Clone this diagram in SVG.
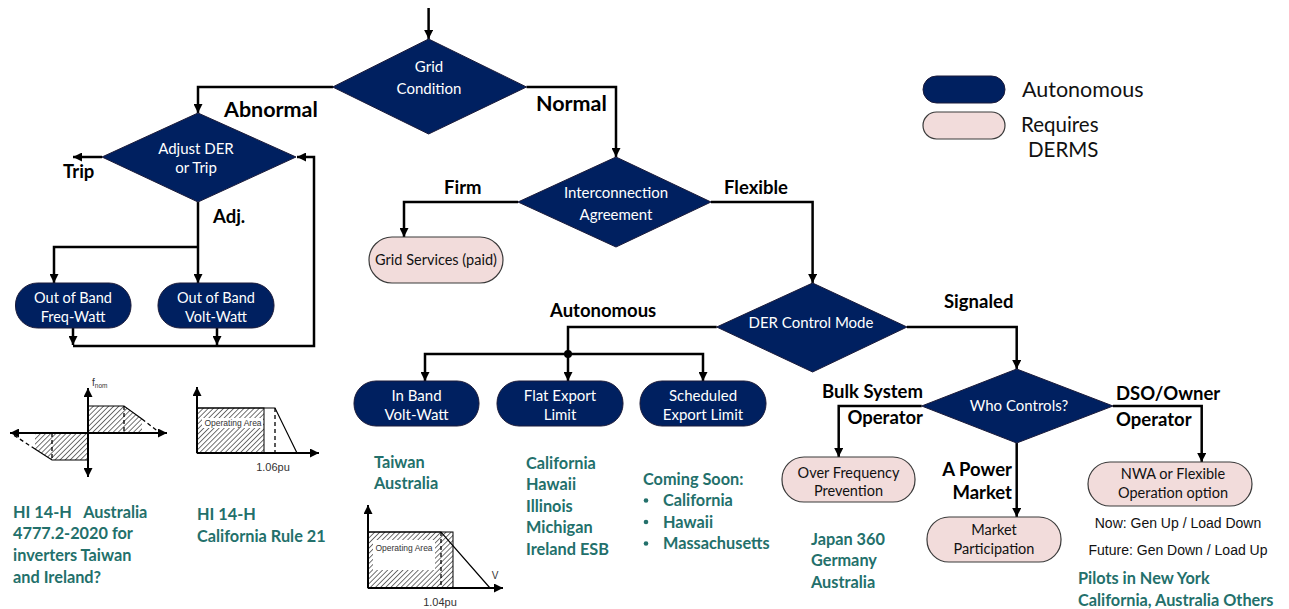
<svg xmlns="http://www.w3.org/2000/svg" width="1289" height="609" viewBox="0 0 1289 609">
<style>
.ln{stroke:#000;stroke-width:2.5;fill:none}
.ar{marker-end:url(#ah)}
.dk{fill:#002060;stroke:#1b1b3a;stroke-width:1}
.pk{fill:#F2DCDB;stroke:#3a3a3a;stroke-width:1.2}
.wt{fill:#fff;font-family:Lato,"Liberation Sans",sans-serif;font-size:15px;text-anchor:middle}
.bk{fill:#111;font-family:Lato,"Liberation Sans",sans-serif;font-size:14.5px;text-anchor:middle}
.lb{fill:#000;font-family:Lato,"Liberation Sans",sans-serif;font-weight:bold;font-size:18.5px}
.lb2{fill:#000;font-family:Lato,"Liberation Sans",sans-serif;font-weight:bold;font-size:21.5px}
.tl{fill:#23706B;font-family:Lato,"Liberation Sans",sans-serif;font-weight:bold;font-size:16.3px}
.ar2{fill:#111;font-family:"Liberation Sans",Arial,sans-serif;font-size:14px;text-anchor:middle}
.lg{fill:#111;font-family:Lato,"Liberation Sans",sans-serif;font-size:21.5px}
.lg2{fill:#111;font-family:Lato,"Liberation Sans",sans-serif;font-size:20.5px}
.ax{stroke:#000;stroke-width:2;fill:none}
.th{stroke:#000;stroke-width:1.2;fill:none}
.ds{stroke:#000;stroke-width:1.3;fill:none;stroke-dasharray:4 3}
.sm{fill:#333;font-family:"Liberation Sans",Arial,sans-serif;font-size:8.5px;text-anchor:middle}
.pu{fill:#333;font-family:"Liberation Sans",Arial,sans-serif;font-size:11px;text-anchor:middle}
</style>
<defs>
<marker id="ah" viewBox="0 0 10 10" refX="10" refY="5" markerUnits="userSpaceOnUse" markerWidth="9" markerHeight="9" orient="auto">
<path d="M0,0 L10,5 L0,10 z" fill="#000"/>
</marker>
<marker id="ax" viewBox="0 0 10 10" refX="10" refY="5" markerUnits="userSpaceOnUse" markerWidth="9" markerHeight="9" orient="auto">
<path d="M0,0 L10,5 L0,10 z" fill="#000"/>
</marker>
<pattern id="hatch" patternUnits="userSpaceOnUse" width="3.6" height="3.6" patternTransform="rotate(45)">
<rect width="3.6" height="3.6" fill="#fff"/>
<line x1="0" y1="0" x2="0" y2="3.6" stroke="#444" stroke-width="1.5"/>
</pattern>
</defs>
<rect width="1289" height="609" fill="#fff"/>

<g id="connectors">
<path class="ln ar" d="M428.6,8 V39"/>
<path class="ln ar" d="M333,87 H198 V113"/>
<path class="ln ar" d="M526.5,87 H616 V157"/>
<path class="ln ar" d="M102,157 H73"/>
<path class="ln ar" d="M198,202 V283"/>
<path class="ln ar" d="M198,247 H54 V283"/>
<path class="ln ar" d="M73,328 V345"/>
<path class="ln ar" d="M217,328 V345"/>
<path class="ln ar" d="M73,346 H314 V157 H297"/>
<path class="ln ar" d="M518,202 H404 V237"/>
<path class="ln ar" d="M711,202 H812.6 V283"/>
<path class="ln" d="M716.7,327 H568 V354"/>
<circle cx="568" cy="354" r="4" fill="#000"/>
<path class="ln ar" d="M568,354 H425 V381"/>
<path class="ln ar" d="M568,354 V381"/>
<path class="ln ar" d="M568,354 H703 V381"/>
<path class="ln ar" d="M907,327 H1016.7 V369"/>
<path class="ln ar" d="M921.7,406 H838.7 V457"/>
<path class="ln ar" d="M1113,406 H1201.7 V462"/>
<path class="ln ar" d="M1016.7,443 V517"/>
</g>

<g id="grid-condition">
<polygon class="dk" points="428.6,39 526.5,87 428.6,134 332.7,87"/>
<text class="wt" x="429" y="72">Grid</text>
<text class="wt" x="429" y="94">Condition</text>
</g>
<g id="adjust-der">
<polygon class="dk" points="198,113 296,157 198,202 102,157"/>
<text class="wt" x="196" y="154">Adjust DER</text>
<text class="wt" x="196" y="173">or Trip</text>
</g>
<g id="interconnection">
<polygon class="dk" points="616,157 711,202 616,247 518,202"/>
<text class="wt" x="616" y="198">Interconnection</text>
<text class="wt" x="616" y="220">Agreement</text>
</g>
<g id="der-control-mode">
<polygon class="dk" points="812.6,283 907,327 812.6,372 716.7,327"/>
<text class="wt" x="811" y="328">DER Control Mode</text>
</g>
<g id="who-controls">
<polygon class="dk" points="1016.7,369 1113,406 1016.7,443 921.7,406"/>
<text class="wt" x="1019" y="411">Who Controls?</text>
</g>

<g id="oob-freq-watt">
<rect class="dk" x="15.5" y="283" width="115.5" height="45" rx="22"/>
<text class="wt" x="73" y="303" style="font-size:14.5px">Out of Band</text>
<text class="wt" x="73" y="322" style="font-size:14.5px">Freq-Watt</text>
</g>
<g id="oob-volt-watt">
<rect class="dk" x="158" y="283" width="116" height="45" rx="22"/>
<text class="wt" x="216" y="303" style="font-size:14.5px">Out of Band</text>
<text class="wt" x="216" y="322" style="font-size:14.5px">Volt-Watt</text>
</g>
<g id="grid-services">
<rect class="pk" x="369" y="237" width="134" height="46" rx="23"/>
<text class="bk" x="436" y="265">Grid Services (paid)</text>
</g>
<g id="in-band-volt-watt">
<rect class="dk" x="354" y="381" width="125" height="45" rx="22"/>
<text class="wt" x="416.5" y="401">In Band</text>
<text class="wt" x="416.5" y="420">Volt-Watt</text>
</g>
<g id="flat-export">
<rect class="dk" x="497" y="381" width="126" height="45" rx="22"/>
<text class="wt" x="560" y="401">Flat Export</text>
<text class="wt" x="560" y="420">Limit</text>
</g>
<g id="scheduled-export">
<rect class="dk" x="640" y="381" width="126" height="45" rx="22"/>
<text class="wt" x="703" y="401">Scheduled</text>
<text class="wt" x="703" y="420">Export Limit</text>
</g>
<g id="over-frequency">
<rect class="pk" x="782" y="457" width="133" height="45" rx="22"/>
<text class="bk" x="848.5" y="478">Over Frequency</text>
<text class="bk" x="848.5" y="496">Prevention</text>
</g>
<g id="market-participation">
<rect class="pk" x="927" y="517" width="134" height="45" rx="22"/>
<text class="bk" x="994" y="535">Market</text>
<text class="bk" x="994" y="554">Participation</text>
</g>
<g id="nwa">
<rect class="pk" x="1088" y="462" width="164" height="44" rx="22"/>
<text class="bk" x="1173" y="479">NWA or Flexible</text>
<text class="bk" x="1173" y="498">Operation option</text>
</g>

<g id="legend">
<rect class="dk" x="923" y="76" width="82" height="27" rx="13.5"/>
<rect class="pk" x="923" y="112" width="82" height="27" rx="13.5"/>
<text class="lg" x="1022" y="97">Autonomous</text>
<text class="lg2" x="1021" y="132">Requires</text>
<text class="lg2" x="1028" y="157">DERMS</text>
</g>

<g id="labels">
<text class="lb2" x="224" y="117">Abnormal</text>
<text class="lb2" x="536" y="111">Normal</text>
<text class="lb" x="63" y="178">Trip</text>
<text class="lb" x="213" y="223">Adj.</text>
<text class="lb" x="444" y="194">Firm</text>
<text class="lb" x="724" y="194">Flexible</text>
<text class="lb" x="550" y="317">Autonomous</text>
<text class="lb" x="944" y="308">Signaled</text>
<text class="lb" x="923" y="398" text-anchor="end">Bulk System</text>
<text class="lb" x="923" y="424" text-anchor="end">Operator</text>
<text class="lb" x="1116" y="400">DSO/Owner</text>
<text class="lb" x="1116" y="426">Operator</text>
<text class="lb" x="1012" y="476" text-anchor="end">A Power</text>
<text class="lb" x="1012" y="499" text-anchor="end">Market</text>
<text class="ar2" x="1178" y="528">Now: Gen Up / Load Down</text>
<text class="ar2" x="1178" y="555">Future: Gen Down / Load Up</text>
</g>

<g id="notes">
<text class="tl" x="13" y="518" xml:space="preserve">HI 14-H   Australia</text>
<text class="tl" x="13" y="539">4777.2-2020 for</text>
<text class="tl" x="13" y="561">inverters Taiwan</text>
<text class="tl" x="13" y="583">and Ireland?</text>
<text class="tl" x="197" y="520">HI 14-H</text>
<text class="tl" x="197" y="542">California Rule 21</text>
<text class="tl" x="374" y="468">Taiwan</text>
<text class="tl" x="374" y="489">Australia</text>
<text class="tl" x="526" y="469">California</text>
<text class="tl" x="526" y="490">Hawaii</text>
<text class="tl" x="526" y="512">Illinois</text>
<text class="tl" x="526" y="533">Michigan</text>
<text class="tl" x="526" y="555">Ireland ESB</text>
<text class="tl" x="643" y="485">Coming Soon:</text>
<circle cx="646" cy="500.5" r="2.3" fill="#23706B"/>
<text class="tl" x="663" y="506">California</text>
<circle cx="646" cy="522" r="2.3" fill="#23706B"/>
<text class="tl" x="663" y="528">Hawaii</text>
<circle cx="646" cy="543.5" r="2.3" fill="#23706B"/>
<text class="tl" x="663" y="549">Massachusetts</text>
<text class="tl" x="811" y="545">Japan 360</text>
<text class="tl" x="811" y="566">Germany</text>
<text class="tl" x="811" y="588">Australia</text>
<text class="tl" x="1078" y="584">Pilots in New York</text>
<text class="tl" x="1078" y="606">California, Australia Others</text>
</g>

<g id="chart-freq-watt">
<polygon points="88,406 124,406 142,419 142,433 88,433" fill="url(#hatch)"/>
<polygon points="35,433 88,433 88,460 52,460 35,449" fill="url(#hatch)"/>
<path class="th" d="M88,406 H124 L142,419"/>
<path class="ds" d="M142,419 L160,433"/>
<path class="ds" d="M124,406 V433"/>
<path class="th" d="M88,460 H52 L35,449"/>
<path class="ds" d="M35,449 L12,434"/>
<path class="ds" d="M52,433 V460"/>
<path class="ax" d="M88,433 H10" marker-end="url(#ax)"/>
<path class="ax" d="M88,433 H167" marker-end="url(#ax)"/>
<path class="ax" d="M88,433 V388" marker-end="url(#ax)"/>
<path class="ax" d="M88,433 V477" marker-end="url(#ax)"/>
<text x="92" y="386" style="fill:#333;font-family:'Liberation Sans',Arial,sans-serif;font-size:10px">f<tspan dy="2" style="font-size:6.5px">nom</tspan></text>
</g>

<g id="chart-volt-watt-106">
<rect x="197" y="408" width="67" height="45" fill="url(#hatch)" stroke="#000" stroke-width="1"/>
<rect x="202" y="418" width="61" height="10" fill="#fff"/>
<text class="sm" x="233" y="426">Operating Area</text>
<path class="th" d="M197,408 H275 L297,453"/>
<path class="ds" d="M275,408 V453"/>
<path class="ax" d="M197,453 V387" marker-end="url(#ax)"/>
<path class="ax" d="M197,453 H319" marker-end="url(#ax)"/>
<text class="pu" x="273" y="471">1.06pu</text>
</g>

<g id="chart-volt-watt-104">
<rect x="368" y="532" width="85" height="56" fill="url(#hatch)" stroke="#000" stroke-width="1"/>
<rect x="373" y="540" width="62" height="30" fill="#fff"/>
<text class="sm" x="404" y="551">Operating Area</text>
<path class="th" d="M368,532 H441 L490,588"/>
<path class="ds" d="M441,532 V588"/>
<path class="ax" d="M368,588 V505" marker-end="url(#ax)"/>
<path class="ax" d="M368,588 H503" marker-end="url(#ax)"/>
<text class="pu" x="495" y="579" style="font-size:10px">V</text>
<text class="pu" x="440" y="606">1.04pu</text>
</g>
</svg>
